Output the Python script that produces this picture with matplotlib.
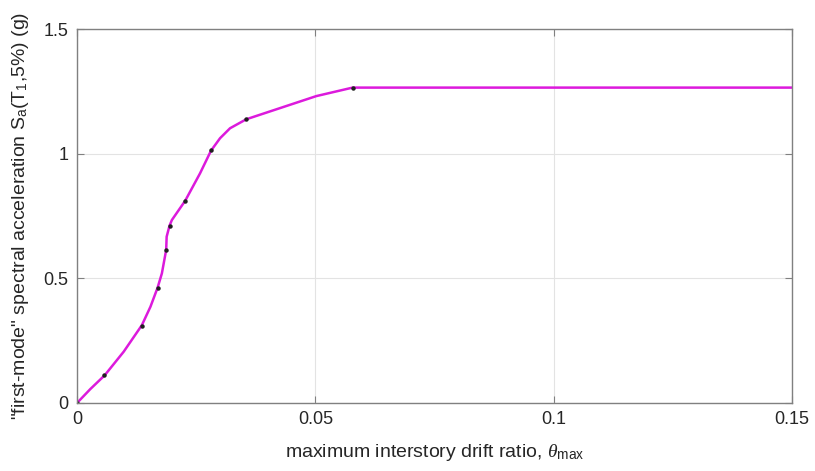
import matplotlib.pyplot as plt

plt.rcParams['font.family'] = ['Liberation Sans', 'DejaVu Sans']
plt.rcParams['mathtext.fontset'] = 'custom'
plt.rcParams['mathtext.rm'] = 'Liberation Sans'
plt.rcParams['mathtext.it'] = 'Liberation Serif:italic'

# IDA curve (drift ratio, Sa in g)
curve_drift = [0.0, 0.0028, 0.0058, 0.0098, 0.0136, 0.0154, 0.0169, 0.0178,
               0.0187, 0.0188, 0.0194, 0.0199, 0.0227, 0.0258, 0.0281, 0.0300,
               0.0321, 0.0355, 0.0502, 0.0578, 0.15]
curve_sa = [0.0, 0.056, 0.111, 0.206, 0.312, 0.386, 0.4625, 0.520,
            0.614, 0.667, 0.711, 0.734, 0.8115, 0.921, 1.012, 1.062,
            1.102, 1.138, 1.231, 1.265, 1.265]

# analysis points (black dots)
pt_drift = [0.0, 0.0057, 0.0136, 0.0169, 0.0187, 0.0194, 0.0227, 0.0282, 0.0355, 0.0578]
pt_sa = [0.0, 0.112, 0.310, 0.4625, 0.612, 0.711, 0.8115, 1.013, 1.138, 1.265]

xticks = [0, 0.05, 0.1, 0.15]
xtick_labels = ['0', '0.05', '0.1', '0.15']
yticks = [0, 0.5, 1, 1.5]
ytick_labels = ['0', '0.5', '1', '1.5']

fig = plt.figure(figsize=(8.15, 4.71), dpi=100)
ax = fig.add_axes([0.0945, 0.1444, 0.8775, 0.794])

ax.plot(curve_drift, curve_sa, color='#dc1adc', linewidth=1.8, solid_capstyle='round')
ax.plot(pt_drift, pt_sa, linestyle='none', marker='o', markersize=2.2, color='#202020')

ax.set_xlim(0, 0.15)
ax.set_ylim(0, 1.5)
ax.set_xticks(xticks)
ax.set_xticklabels(xtick_labels)
ax.set_yticks(yticks)
ax.set_yticklabels(ytick_labels)

gray = '#808080'
for s in ax.spines.values():
    s.set_color(gray)
    s.set_linewidth(1.0)
ax.tick_params(direction='in', length=5, width=0.8, color=gray,
               labelsize=13, labelcolor='#262626', top=True, right=True, pad=6)
ax.grid(True, color='#e3e3e3', linewidth=0.8)
ax.set_axisbelow(True)

ax.set_xlabel(r'maximum interstory drift ratio, $\theta_{\mathrm{max}}$',
              fontsize=14, color='#262626', labelpad=10)
ax.set_ylabel(r'"first-mode" spectral acceleration S$_{\mathrm{a}}$(T$_{\mathrm{1}}$,5%) (g)',
              fontsize=14, color='#262626', labelpad=9)

plt.savefig('out.png', dpi=100)
